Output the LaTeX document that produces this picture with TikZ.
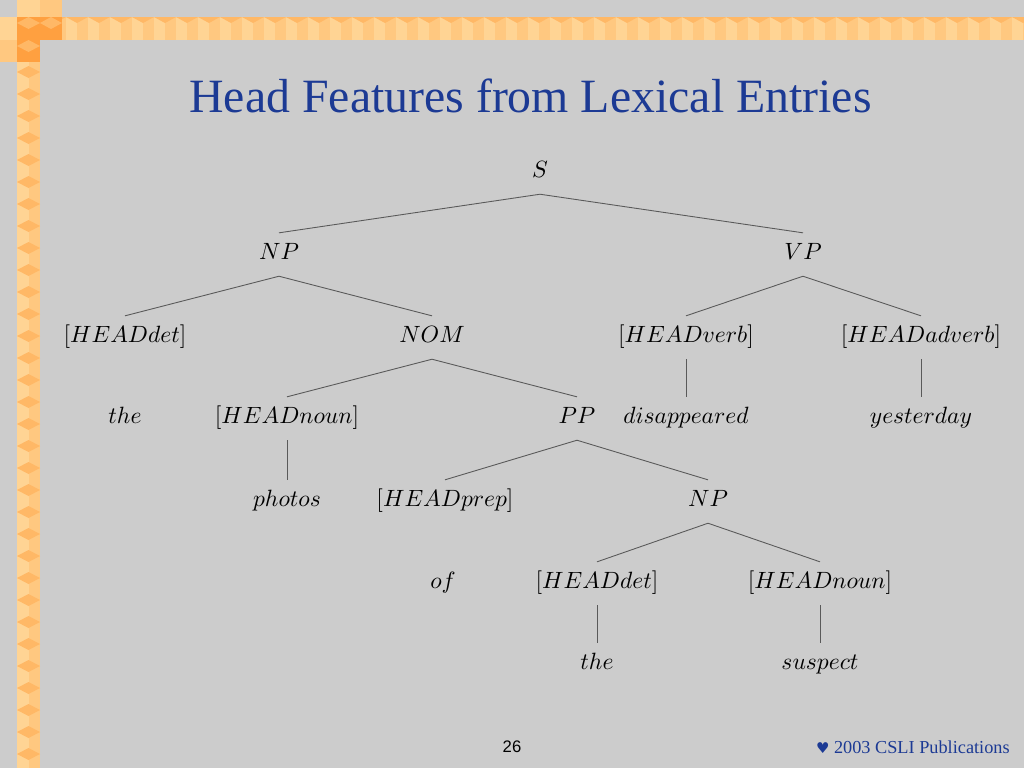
\documentclass[tikz,border=0pt]{standalone}
\usepackage{fontspec}
\newfontfamily\titlefont{Liberation Serif}
\newfontfamily\footfont{Liberation Sans}
\newfontfamily\symfont{DejaVu Sans}
% math italic from the 10pt design, scaled up
\DeclareFontShape{OML}{cmm}{m}{it}{<->cmmi10}{}
\DeclareFontShape{OT1}{cmr}{m}{n}{<->cmr10}{}

\definecolor{slidebg}{HTML}{CCCCCC}
\definecolor{titleblue}{HTML}{1C3A94}
\definecolor{stripelight}{HTML}{FFD494}
\definecolor{stripemid}{HTML}{FFC880}
\definecolor{stripedark}{HTML}{FFB866}
\definecolor{cornerdark}{HTML}{FFA040}

\tikzset{
  word/.style={anchor=base, inner sep=0pt, text height=14.7pt, text depth=9.6pt,
    font=\fontsize{13.4}{16}\selectfont},
  branch/.style={draw=black!65, line width=0.5pt},
}

\begin{document}
\begin{tikzpicture}[x=0.02cm, y=-0.02cm]
% Slide background
\fill[slidebg] (0,0) rectangle (1024,768);
\useasboundingbox (0,0) rectangle (1024,768);

% Top stripe of cubes
\fill[stripelight] (0,17) rectangle (1024,40);
\foreach \k in {0,...,46} {
  \fill[stripemid] (\k*22+11,17) rectangle (\k*22+22,40);
  \fill[stripedark] (\k*22,17) -- (\k*22+11,23) -- (\k*22+22,17) -- cycle;
}

% Left stripe of cubes
\fill[stripelight] (17,0) rectangle (40,768);
\fill[stripemid] (28.5,0) rectangle (40,768);
\foreach \k in {0,...,35}
  \fill[stripedark] (17,\k*22+6) -- (28.5,\k*22) -- (40,\k*22+6) -- (28.5,\k*22+12) -- cycle;

% Corner block
\fill[stripelight] (17,0) rectangle (62,17);
\fill[stripelight] (0,17) rectangle (17,62);
\fill[stripemid] (40,0) rectangle (62,17);
\fill[stripemid] (0,40) rectangle (17,62);
\fill[cornerdark] (17,17) rectangle (62,40);
\fill[cornerdark] (17,40) rectangle (40,62);
\fill[stripedark] (17,23) -- (28.5,17) -- (40,23) -- (28.5,29) -- cycle;
\fill[stripedark] (40,23) -- (51,17) -- (62,23) -- (51,29) -- cycle;
\fill[stripedark] (17,46) -- (28.5,40) -- (40,46) -- (28.5,52) -- cycle;

% Title
\node[anchor=base, text=titleblue, font=\titlefont\fontsize{27.2}{32}\selectfont]
  (title) at (530.5,112) {Head Features from Lexical Entries};

% Tree nodes
\node[word] (s)      at (540,177) {$S$};
\node[word] (np)     at (279,259) {$NP$};
\node[word] (vp)     at (803,259) {$VP$};
\node[word] (hdet)   at (125,342) {$[HEAD det]$};
\node[word] (nom)    at (432,342) {$NOM$};
\node[word] (hverb)  at (686,342) {$[HEAD verb]$};
\node[word] (hadv)   at (921,342) {$[HEAD adverb]$};
\node[word] (the)    at (125,423) {$the$};
\node[word] (hnoun)  at (287,423) {$[HEAD noun]$};
\node[word] (pp)     at (577,423) {$PP$};
\node[word] (disap)  at (686,423) {$disappeared$};
\node[word] (yest)   at (921,423) {$yesterday$};
\node[word] (photos) at (287,506) {$photos$};
\node[word] (hprep)  at (445,506) {$[HEAD prep]$};
\node[word] (npb)    at (708,506) {$NP$};
\node[word] (of)     at (443,588) {$of$};
\node[word] (hdetb)  at (597,588) {$[HEAD det]$};
\node[word] (hnounb) at (820,588) {$[HEAD noun]$};
\node[word] (theb)   at (597,669) {$the$};
\node[word] (susp)   at (820,669) {$suspect$};

% Branches
\draw[branch] (s.south) -- (np.north);
\draw[branch] (s.south) -- (vp.north);
\draw[branch] (np.south) -- (hdet.north);
\draw[branch] (np.south) -- (nom.north);
\draw[branch] (vp.south) -- (hverb.north);
\draw[branch] (vp.south) -- (hadv.north);
\draw[branch] (nom.south) -- (hnoun.north);
\draw[branch] (nom.south) -- (pp.north);
\draw[branch] (hverb.south) -- (disap.north);
\draw[branch] (hadv.south) -- (yest.north);
\draw[branch] (hnoun.south) -- (photos.north);
\draw[branch] (pp.south) -- (hprep.north);
\draw[branch] (pp.south) -- (npb.north);
\draw[branch] (npb.south) -- (hdetb.north);
\draw[branch] (npb.south) -- (hnounb.north);
\draw[branch] (hdetb.south) -- (theb.north);
\draw[branch] (hnounb.south) -- (susp.north);

% Footer
\node[anchor=base, font=\footfont\fontsize{9.5}{11}\selectfont] (pagenum) at (512,752) {26};
\node[anchor=base east, inner sep=0pt, text=titleblue, font=\titlefont\fontsize{10.4}{12}\selectfont]
  (credit) at (1010,753) {{\symfont\fontsize{8.5}{10}\selectfont ♥} 2003 CSLI Publications};

\end{tikzpicture}
\end{document}
